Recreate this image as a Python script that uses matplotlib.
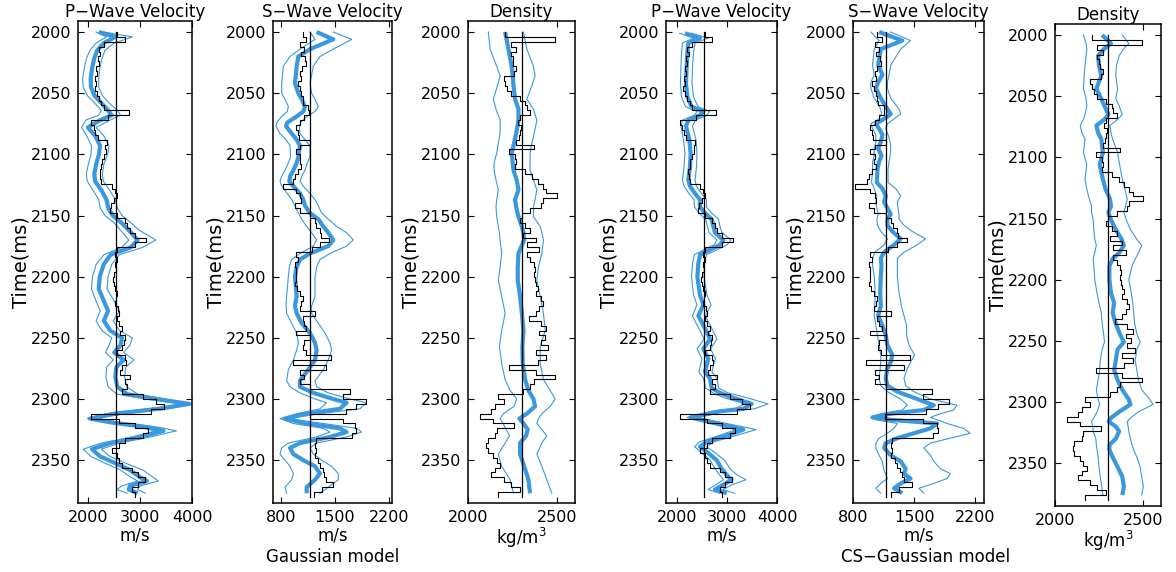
import numpy as np
import matplotlib
matplotlib.use('Agg')
import matplotlib.pyplot as plt

# ---- well logs (block values every 4 ms, starting at 2000 ms) ----
log_t = np.arange(2000, 2380, 4)

vp_log = [2550, 2700, 2300, 2200, 2230, 2180, 2200, 2150, 2170, 2130,
          2150, 2120, 2160, 2200, 2250, 2300, 2780, 2380, 2050, 2100,
          2130, 2180, 2350, 2330, 2340, 2300, 2260, 2250, 2220, 2230,
          2250, 2450, 2520, 2550, 2500, 2440, 2420, 2560, 2700, 2750,
          2800, 2900, 3120, 2900, 2560, 2520, 2550, 2520, 2540, 2500,
          2480, 2500, 2520, 2560, 2540, 2520, 2580, 2600, 2560, 2600,
          2650, 2620, 2700, 2680, 2650, 2550, 2700, 2720, 2650, 2620,
          2800, 2700, 2750, 2650, 3050, 3300, 3450, 3200, 2050, 2600,
          2900, 3150, 3050, 2700, 2600, 2450, 2550, 2600, 2650, 2850,
          2950, 3100, 2950, 2850, 2900]

vs_log = [1080, 1130, 1050, 1100, 1060, 1110, 1120, 1070, 1050, 1060,
          1020, 1040, 1060, 1080, 1090, 1150, 1160, 1100, 1050, 1000,
          1020, 1030, 1180, 1050, 1000, 1050, 1040, 1060, 1020, 980,
          960, 820, 1000, 1050, 1060, 980, 1040, 1180, 1240, 1260,
          1300, 1320, 1420, 1300, 1200, 1000, 1020, 980, 1000, 990,
          1000, 980, 1010, 1040, 1080, 1060, 1040, 1240, 1080, 1100,
          1130, 1000, 1180, 1100, 1090, 1120, 1450, 950, 1380, 1050,
          1100, 1050, 1180, 1700, 1600, 1900, 1770, 1640, 1170, 1600,
          1760, 1770, 1720, 1250, 1240, 1250, 1240, 1280, 1300, 1340,
          1360, 1380, 1470, 1330, 1230]

rho_log = [2210, 2490, 2240, 2270, 2240, 2250, 2255, 2270, 2260, 2200,
           2210, 2220, 2240, 2290, 2320, 2330, 2350, 2290, 2280, 2295,
           2290, 2285, 2270, 2370, 2230, 2265, 2270, 2265, 2320, 2360,
           2390, 2420, 2440, 2500, 2420, 2410, 2350, 2300, 2290, 2320,
           2350, 2310, 2380, 2330, 2400, 2330, 2350, 2370, 2375, 2370,
           2375, 2380, 2390, 2380, 2410, 2420, 2400, 2380, 2340, 2410,
           2440, 2400, 2430, 2410, 2450, 2380, 2440, 2390, 2230, 2380,
           2490, 2370, 2350, 2310, 2170, 2200, 2150, 2130, 2070, 2140,
           2260, 2160, 2150, 2110, 2100, 2110, 2140, 2160, 2180, 2150,
           2130, 2200, 2240, 2290, 2170]

# background (initial) models
vp_bg = 2540
vs_bg = 1180
rho_bg = 2300

# ---- Gaussian model: P-wave ----
t_pg = [2000, 2004, 2009, 2015, 2022, 2030, 2038, 2045, 2052, 2058,
        2064, 2068, 2072, 2078, 2085, 2093, 2100, 2108, 2116, 2122,
        2130, 2137, 2144, 2150, 2156, 2162, 2170, 2176, 2182, 2190,
        2200, 2210, 2220, 2228, 2236, 2244, 2250, 2256, 2262, 2268,
        2274, 2282, 2290, 2296, 2300, 2304, 2308, 2312, 2316, 2319,
        2323, 2326, 2331, 2336, 2341, 2347, 2353, 2358, 2364, 2367,
        2371, 2374, 2377]
vp_g_mean = [2200, 2520, 2300, 2170, 2110, 2070, 2045, 2050, 2120, 2250,
             2380, 2450, 2230, 1990, 2135, 2225, 2205, 2150, 2115, 2130,
             2260, 2350, 2385, 2470, 2640, 2780, 2950, 2820, 2430, 2295,
             2220, 2200, 2300, 2380, 2300, 2420, 2650, 2620, 2500, 2680,
             2540, 2520, 2560, 2750, 3300, 3950, 3350, 2500, 2030, 2420,
             3130, 3450, 3000, 2420, 2070, 2230, 2550, 2800, 3000, 3130,
             2800, 2780, 2950]
vp_g_lo = [2150, 2350, 2150, 2030, 1960, 1920, 1890, 1900, 1980, 2120,
           2250, 2200, 1950, 1870, 1970, 2060, 2050, 2000, 1960, 1980,
           2100, 2200, 2230, 2320, 2500, 2620, 2780, 2650, 2300, 2150,
           2080, 2060, 2150, 2230, 2150, 2260, 2450, 2400, 2330, 2480,
           2350, 2340, 2380, 2550, 3100, 3850, 3200, 2350, 1980, 2300,
           2950, 3300, 2850, 2250, 1900, 2050, 2350, 2620, 2820, 2950,
           2650, 2550, 2750]
vp_g_hi = [2300, 2850, 2500, 2320, 2260, 2220, 2200, 2200, 2270, 2400,
           2560, 2620, 2420, 2150, 2300, 2400, 2370, 2300, 2270, 2290,
           2420, 2520, 2560, 2650, 2820, 2980, 3300, 3050, 2600, 2450,
           2380, 2360, 2500, 2600, 2480, 2600, 2850, 2800, 2680, 2880,
           2720, 2700, 2740, 2950, 3500, 4000, 3550, 2700, 2150, 2600,
           3350, 3700, 3200, 2600, 2250, 2420, 2750, 3050, 3250, 3350,
           3000, 2950, 3100]

# ---- Gaussian model: S-wave ----
t_sg = [2000, 2006, 2014, 2020, 2028, 2042, 2050, 2055, 2061, 2065,
        2069, 2074, 2077, 2083, 2088, 2093, 2102, 2107, 2113, 2118,
        2122, 2126, 2132, 2137, 2142, 2148, 2153, 2159, 2164, 2170,
        2175, 2181, 2186, 2192, 2200, 2216, 2224, 2230, 2238, 2246,
        2254, 2260, 2268, 2276, 2285, 2290, 2295, 2300, 2303, 2308,
        2312, 2316, 2320, 2324, 2327, 2331, 2336, 2340, 2345, 2350,
        2355, 2361, 2366, 2372, 2377]
vs_g_mean = [1262, 1478, 1176, 1025, 1003, 981, 1025, 1068, 1111, 1089,
             1003, 882, 865, 938, 1003, 1046, 1025, 1003, 960, 917,
             908, 960, 1046, 1089, 1111, 1176, 1284, 1349, 1413, 1478,
             1413, 1176, 1046, 1003, 981, 1003, 981, 1003, 1068, 1176,
             1241, 1262, 1241, 1154, 1046, 1046, 1219, 1478, 1651, 1565,
             1133, 852, 1133, 1565, 1651, 1435, 1046, 917, 960, 1089,
             1241, 1305, 1241, 1133, 1133]
vs_g_lo = [1176, 1241, 1046, 917, 830, 809, 809, 852, 895, 882,
           809, 744, 735, 787, 865, 917, 925, 895, 852, 809,
           787, 809, 882, 938, 981, 1025, 1068, 1133, 1197, 1262,
           1219, 1046, 938, 908, 895, 873, 865, 873, 938, 1003,
           1025, 1003, 960, 895, 873, 917, 1046, 1241, 1392, 1305,
           1003, 787, 960, 1349, 1435, 1262, 895, 809, 787, 852,
           917, 960, 938, 852, 873]
vs_g_hi = [1478, 1716, 1478, 1305, 1219, 1176, 1197, 1241, 1284, 1241,
           1133, 1055, 1038, 1046, 1111, 1176, 1176, 1141, 1111, 1068,
           1046, 1089, 1176, 1241, 1284, 1327, 1413, 1521, 1651, 1737,
           1651, 1435, 1305, 1262, 1241, 1241, 1197, 1197, 1284, 1370,
           1435, 1457, 1413, 1349, 1241, 1262, 1413, 1694, 1910, 1824,
           1305, 895, 1349, 1781, 1845, 1651, 1262, 1176, 1219, 1327,
           1457, 1543, 1543, 1413, 1305]

# ---- Gaussian model: density ----
t_rg = [2000, 2014, 2028, 2036, 2044, 2055, 2063, 2072, 2083, 2091,
        2099, 2107, 2113, 2121, 2129, 2137, 2143, 2151, 2159, 2164,
        2170, 2181, 2192, 2203, 2216, 2230, 2244, 2257, 2271, 2284,
        2293, 2300, 2306, 2312, 2316, 2320, 2325, 2330, 2336, 2345,
        2355, 2366, 2377]
rho_g_mean = [2208, 2227, 2245, 2251, 2255, 2264, 2283, 2283, 2270, 2258,
              2245, 2251, 2255, 2273, 2283, 2264, 2270, 2283, 2302, 2311,
              2315, 2283, 2279, 2279, 2292, 2302, 2311, 2305, 2307, 2320,
              2339, 2367, 2376, 2330, 2288, 2311, 2335, 2326, 2292, 2292,
              2315, 2339, 2348]
rho_g_lo = [2114, 2124, 2161, 2180, 2165, 2142, 2157, 2180, 2180, 2170,
            2161, 2146, 2146, 2157, 2170, 2161, 2157, 2161, 2170, 2176,
            2180, 2189, 2180, 2170, 2189, 2208, 2189, 2176, 2189, 2208,
            2236, 2273, 2258, 2199, 2180, 2197, 2214, 2233, 2208, 2170,
            2189, 2236, 2255]
rho_g_hi = [2311, 2330, 2367, 2376, 2358, 2330, 2367, 2386, 2371, 2358,
            2348, 2348, 2348, 2367, 2386, 2376, 2367, 2367, 2405, 2414,
            2423, 2414, 2395, 2386, 2405, 2423, 2433, 2405, 2405, 2423,
            2461, 2489, 2461, 2414, 2395, 2386, 2414, 2442, 2414, 2386,
            2414, 2442, 2470]

# ---- CS-Gaussian model: P-wave ----
t_pc = [2001, 2005, 2009, 2017, 2028, 2042, 2053, 2061, 2065, 2068,
        2072, 2077, 2088, 2099, 2110, 2121, 2126, 2132, 2137, 2143,
        2148, 2153, 2159, 2164, 2170, 2174, 2178, 2182, 2189, 2200,
        2215, 2223, 2232, 2237, 2245, 2251, 2259, 2267, 2272, 2278,
        2283, 2291, 2295, 2299, 2304, 2308, 2310, 2315, 2318, 2323,
        2325, 2329, 2335, 2339, 2343, 2350, 2357, 2362, 2366, 2370,
        2374, 2377]
vp_c_mean = [2160, 2460, 2227, 2207, 2193, 2180, 2207, 2293, 2527, 2460,
             2227, 2180, 2247, 2273, 2260, 2227, 2260, 2360, 2460, 2460,
             2560, 2693, 2727, 2760, 2927, 2860, 2660, 2460, 2427, 2407,
             2460, 2527, 2427, 2493, 2593, 2660, 2527, 2627, 2593, 2560,
             2660, 2693, 2860, 3127, 3493, 3327, 2860, 2273, 2593, 3127,
             3327, 3060, 2593, 2460, 2593, 2793, 2893, 2993, 3093, 2927,
             2760, 2993]
vp_c_lo = [2050, 2330, 2110, 2090, 2080, 2070, 2090, 2170, 2400, 2350,
           2110, 2080, 2130, 2160, 2140, 2110, 2140, 2240, 2340, 2350,
           2440, 2570, 2610, 2640, 2800, 2740, 2540, 2350, 2310, 2290,
           2330, 2400, 2310, 2370, 2470, 2540, 2400, 2500, 2470, 2440,
           2530, 2570, 2720, 2950, 3350, 3150, 2700, 2200, 2460, 2950,
           3180, 2900, 2450, 2350, 2470, 2660, 2760, 2850, 2930, 2780,
           2620, 2850]
vp_c_hi = [2290, 2620, 2360, 2330, 2310, 2300, 2330, 2420, 2650, 2600,
           2370, 2310, 2380, 2400, 2390, 2360, 2390, 2490, 2590, 2590,
           2690, 2830, 2860, 2900, 3080, 3000, 2800, 2590, 2550, 2540,
           2600, 2680, 2570, 2630, 2730, 2800, 2670, 2770, 2730, 2700,
           2800, 2830, 3020, 3400, 3820, 3550, 3020, 2400, 2750, 3350,
           3580, 3250, 2740, 2590, 2730, 2950, 3060, 3200, 3380, 3100,
           2920, 3150]

# ---- CS-Gaussian model: S-wave ----
t_sc = [2000, 2007, 2014, 2027, 2035, 2041, 2046, 2054, 2063, 2067,
        2071, 2075, 2079, 2084, 2090, 2095, 2101, 2106, 2112, 2123,
        2128, 2134, 2139, 2144, 2149, 2153, 2158, 2163, 2169, 2174,
        2180, 2185, 2191, 2200, 2213, 2224, 2232, 2240, 2248, 2256,
        2264, 2270, 2275, 2283, 2289, 2294, 2300, 2305, 2309, 2312,
        2315, 2317, 2320, 2324, 2328, 2332, 2336, 2340, 2346, 2351,
        2357, 2361, 2365, 2369, 2373, 2377]
vs_c_mean = [1099, 1365, 1118, 1088, 1137, 1088, 1062, 1118, 1194, 1232,
             1156, 1062, 1099, 1137, 1118, 1088, 1126, 1099, 1080, 1073,
             1137, 1175, 1156, 1194, 1232, 1194, 1194, 1251, 1346, 1270,
             1156, 1118, 1126, 1118, 1111, 1118, 1088, 1137, 1175, 1194,
             1251, 1232, 1194, 1175, 1194, 1308, 1535, 1725, 1611, 1232,
             1024, 1232, 1763, 1687, 1497, 1308, 1175, 1156, 1232, 1346,
             1403, 1384, 1459, 1346, 1270, 1365]
vs_c_lo = [1005, 1099, 1043, 1024, 1043, 1005, 1005, 1043, 1118, 1126,
           1099, 1005, 1024, 1062, 1062, 1043, 1043, 1024, 1024, 1013,
           1043, 1073, 1062, 1073, 1088, 1073, 1080, 1118, 1194, 1156,
           1050, 1024, 1024, 1043, 1054, 1050, 1043, 1062, 1080, 1099,
           1118, 1118, 1111, 1099, 1118, 1194, 1346, 1422, 1365, 1118,
           1005, 1062, 1308, 1270, 1194, 1099, 1062, 1062, 1099, 1137,
           1149, 1171, 1194, 1118, 1062, 1118]
vs_c_hi = [1232, 1459, 1346, 1232, 1213, 1194, 1194, 1232, 1327, 1346,
           1270, 1194, 1175, 1202, 1225, 1232, 1225, 1213, 1202, 1202,
           1289, 1346, 1308, 1316, 1327, 1327, 1384, 1478, 1630, 1535,
           1384, 1308, 1308, 1308, 1327, 1354, 1384, 1414, 1414, 1441,
           1505, 1459, 1422, 1384, 1403, 1497, 1687, 1990, 1952, 1801,
           1687, 1763, 1876, 2066, 2142, 1914, 1687, 1611, 1687, 1725,
           1801, 1914, 1876, 1725, 1554, 1611]

# ---- CS-Gaussian model: density ----
t_rc = [2000, 2007, 2011, 2017, 2025, 2033, 2044, 2052, 2058, 2065,
        2069, 2074, 2080, 2085, 2096, 2106, 2118, 2126, 2134, 2140,
        2145, 2151, 2159, 2167, 2172, 2178, 2183, 2189, 2200, 2211,
        2219, 2227, 2236, 2244, 2251, 2257, 2266, 2274, 2282, 2290,
        2298, 2302, 2308, 2313, 2316, 2320, 2324, 2330, 2335, 2339,
        2345, 2353, 2361, 2369, 2376]
rho_c_mean = [2267, 2317, 2280, 2244, 2249, 2262, 2234, 2262, 2280, 2302,
              2280, 2234, 2244, 2262, 2271, 2253, 2271, 2286, 2311, 2317,
              2302, 2317, 2344, 2377, 2390, 2363, 2326, 2308, 2308, 2317,
              2335, 2326, 2344, 2366, 2390, 2354, 2344, 2335, 2354, 2381,
              2418, 2427, 2363, 2317, 2304, 2344, 2363, 2344, 2308, 2308,
              2326, 2354, 2381, 2390, 2381]
rho_c_lo = [2161, 2176, 2180, 2176, 2170, 2165, 2161, 2176, 2180, 2170,
            2161, 2143, 2152, 2170, 2161, 2180, 2170, 2180, 2194, 2207,
            2207, 2216, 2220, 2225, 2234, 2225, 2216, 2220, 2225, 2238,
            2249, 2262, 2267, 2275, 2280, 2267, 2256, 2253, 2244, 2234,
            2244, 2253, 2238, 2220, 2207, 2214, 2216, 2231, 2234, 2238,
            2244, 2249, 2256, 2264, 2271]
rho_c_hi = [2381, 2418, 2390, 2363, 2348, 2344, 2354, 2344, 2363, 2381,
            2354, 2311, 2317, 2326, 2354, 2366, 2381, 2396, 2409, 2399,
            2390, 2403, 2427, 2463, 2491, 2473, 2454, 2436, 2418, 2432,
            2440, 2445, 2451, 2463, 2482, 2463, 2454, 2463, 2473, 2491,
            2537, 2555, 2473, 2427, 2409, 2414, 2418, 2427, 2436, 2445,
            2463, 2482, 2491, 2500, 2491]

blue = '#3a98de'
t_end = 2380


def draw_panel(rect, t, mean, lo, hi, log, bg, xlim, xticks, title, xlabel):
    ax = fig.add_axes(rect)
    ax.plot(lo, t, color=blue, lw=0.8)
    ax.plot(hi, t, color=blue, lw=0.8)
    ax.plot(mean, t, color=blue, lw=3.0, solid_capstyle='butt')
    tt = np.append(log_t, t_end)
    vv = np.append(log, log[-1])
    ax.plot(vv, tt, color='black', lw=0.8, drawstyle='steps-pre')
    ax.plot([bg, bg], [2000, t_end], color='black', lw=0.9)
    ax.set_xlim(*xlim)
    ax.set_ylim(2385, 1991)
    ax.set_xticks(xticks)
    ax.set_yticks([2000, 2050, 2100, 2150, 2200, 2250, 2300, 2350])
    ax.tick_params(direction='in', top=True, right=True, length=4,
                   width=0.8, labelsize=11.5, pad=5)
    for s in ax.spines.values():
        s.set_linewidth(1.1)
    ax.set_title(title, fontsize=12, pad=3)
    ax.set_ylabel('Time(ms)', fontsize=14, labelpad=0)
    ax.set_xlabel(xlabel, fontsize=12, labelpad=1)
    return ax


fig = plt.figure(figsize=(11.76, 5.72), dpi=100)
W, H = 1176.0, 572.0


def rect(x0, x1, y0, y1):
    return [x0 / W, 1 - y1 / H, (x1 - x0) / W, (y1 - y0) / H]


draw_panel(rect(78, 192, 21, 503), t_pg, vp_g_mean, vp_g_lo, vp_g_hi,
           vp_log, vp_bg, (1800, 4000), [2000, 3000, 4000],
           'P\u2212Wave Velocity', 'm/s')
draw_panel(rect(273, 392, 21, 503), t_sg, vs_g_mean, vs_g_lo, vs_g_hi,
           vs_log, vs_bg, (696, 2240), [800, 1500, 2200],
           'S\u2212Wave Velocity', 'm/s')
draw_panel(rect(468, 575, 21, 503), t_rg, rho_g_mean, rho_g_lo, rho_g_hi,
           rho_log, rho_bg, (2000, 2600), [2000, 2500],
           'Density', 'kg/m$^3$')
draw_panel(rect(666, 777, 21, 503), t_pc, vp_c_mean, vp_c_lo, vp_c_hi,
           vp_log, vp_bg, (1780, 4000), [2000, 3000, 4000],
           'P\u2212Wave Velocity', 'm/s')
draw_panel(rect(853, 984, 21, 503), t_sc, vs_c_mean, vs_c_lo, vs_c_hi,
           vs_log, vs_bg, (800, 2300), [800, 1500, 2200],
           'S\u2212Wave Velocity', 'm/s')
draw_panel(rect(1055, 1161, 24, 506), t_rc, rho_c_mean, rho_c_lo, rho_c_hi,
           rho_log, rho_bg, (2000, 2600), [2000, 2500],
           'Density', 'kg/m$^3$')

fig.text(333 / W, 1 - 557 / H, 'Gaussian model', ha='center', va='center',
         fontsize=12)
fig.text(926 / W, 1 - 557 / H, 'CS\u2212Gaussian model', ha='center',
         va='center', fontsize=12)

fig.savefig('out.png', dpi=100)
